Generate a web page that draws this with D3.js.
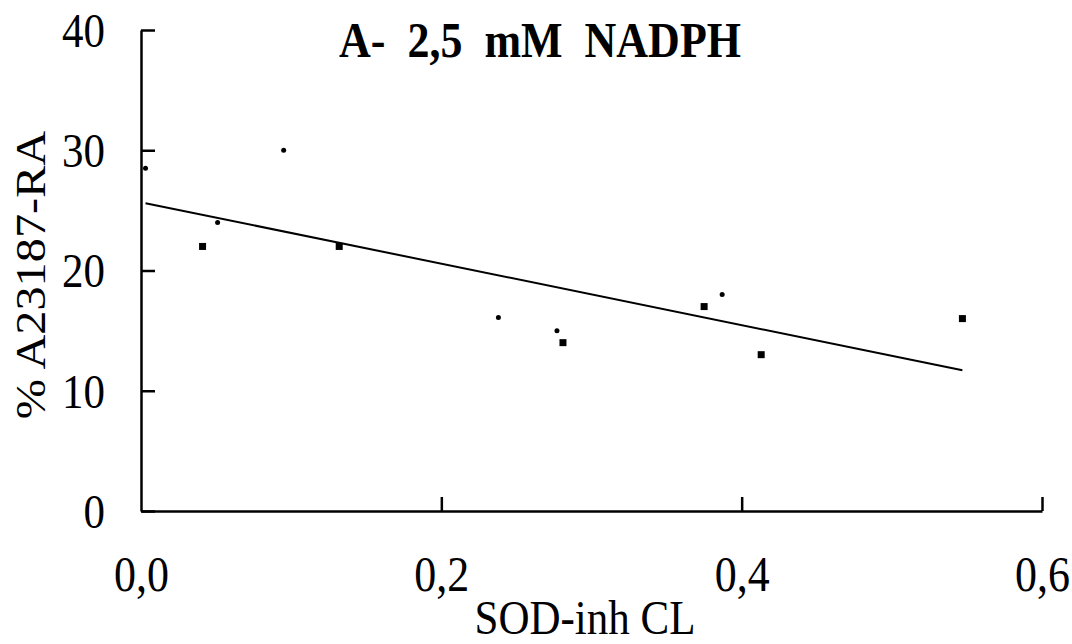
<!DOCTYPE html>
<html>
<head>
<meta charset="utf-8">
<script src="https://cdn.jsdelivr.net/npm/d3@7"></script>
<style>
  body { margin: 0; background: #fff; }
  svg { display: block; }
  text { font-family: "Liberation Serif", "Times New Roman", serif; fill: #000; }
</style>
</head>
<body>
<svg id="chart" width="1072" height="644"></svg>
<script>
// Data
const dotX = [0.003, 0.051, 0.095, 0.238, 0.277, 0.387];
const dotY = [28.5, 24.0, 30.0, 16.1, 15.0, 18.0];
const squareX = [0.041, 0.132, 0.281, 0.375, 0.413, 0.547];
const squareY = [22.0, 22.0, 14.0, 17.0, 13.0, 16.0];
const lineX = [0.003, 0.547];
const lineY = [25.6, 11.7];
const xTicks = [0, 0.2, 0.4, 0.6];
const xTickLabels = ["0,0", "0,2", "0,4", "0,6"];
const yTicks = [0, 10, 20, 30, 40];
const yTickLabels = ["0", "10", "20", "30", "40"];

const SY = 1.15; // vertical stretch of the scanned lettering

const svg = d3.select("#chart");
const x = d3.scaleLinear().domain([0, 0.6]).range([141, 1042]);
const y = d3.scaleLinear().domain([0, 40]).range([511, 30]);

// Y axis (ticks inward)
const yAxis = d3.axisLeft(y).tickValues(yTicks).tickSize(-14).tickSizeOuter(0)
  .tickFormat((d, i) => yTickLabels[i]).tickPadding(36);
const gy = svg.append("g").attr("transform", `translate(${x(0)},0)`).call(yAxis);
gy.select(".domain").attr("stroke", "#000").attr("stroke-width", 2.5);
gy.selectAll(".tick line").attr("stroke", "#000").attr("stroke-width", 2.5);
gy.selectAll(".tick text").attr("font-size", 43).attr("font-family", "Liberation Serif")
  .attr("dy", "0.33em").attr("transform", `scale(1,${SY})`);

// X axis (ticks inward/up)
const xAxis = d3.axisBottom(x).tickValues(xTicks).tickSize(-14).tickSizeOuter(0)
  .tickFormat((d, i) => xTickLabels[i]);
const gx = svg.append("g").attr("transform", `translate(0,${y(0)})`).call(xAxis);
gx.select(".domain").attr("stroke", "#000").attr("stroke-width", 2.5);
gx.selectAll(".tick line").attr("stroke", "#000").attr("stroke-width", 2.5);
gx.selectAll(".tick").filter(d => d === 0).select("line").remove();
gx.selectAll(".tick text").attr("font-size", 44).attr("font-family", "Liberation Serif")
  .attr("dy", 0).attr("y", 80 / SY).attr("transform", `scale(1,${SY})`);

// Regression line
const line = d3.line().x(d => x(d[0])).y(d => y(d[1]));
svg.append("path").datum(lineX.map((v, i) => [v, lineY[i]]))
  .attr("d", line).attr("fill", "none").attr("stroke", "#000").attr("stroke-width", 2);

// Dots
svg.selectAll("circle.dot").data(dotX.map((v, i) => [v, dotY[i]])).enter()
  .append("circle").attr("class", "dot")
  .attr("cx", d => x(d[0])).attr("cy", d => y(d[1])).attr("r", 2.5).attr("fill", "#000");

// Squares
const sq = 7;
svg.selectAll("rect.sq").data(squareX.map((v, i) => [v, squareY[i]])).enter()
  .append("rect").attr("class", "sq")
  .attr("x", d => x(d[0]) - sq / 2).attr("y", d => y(d[1]) - sq / 2)
  .attr("width", sq).attr("height", sq).attr("fill", "#000");

// Title
svg.append("text").attr("transform", `translate(540,57) scale(1,${SY})`)
  .attr("text-anchor", "middle")
  .attr("font-size", 44).attr("font-weight", "bold").style("white-space", "pre")
  .text("A-  2,5  mM  NADPH");

// Axis titles
svg.append("text").attr("transform", `translate(585,634) scale(1,${SY})`)
  .attr("text-anchor", "middle").attr("font-size", 43).text("SOD-inh CL");
svg.append("text").attr("transform", `translate(45,275) scale(1,${SY}) rotate(-90)`)
  .attr("text-anchor", "middle").attr("font-size", 42).text("% A23187-RA");
</script>
</body>
</html>
